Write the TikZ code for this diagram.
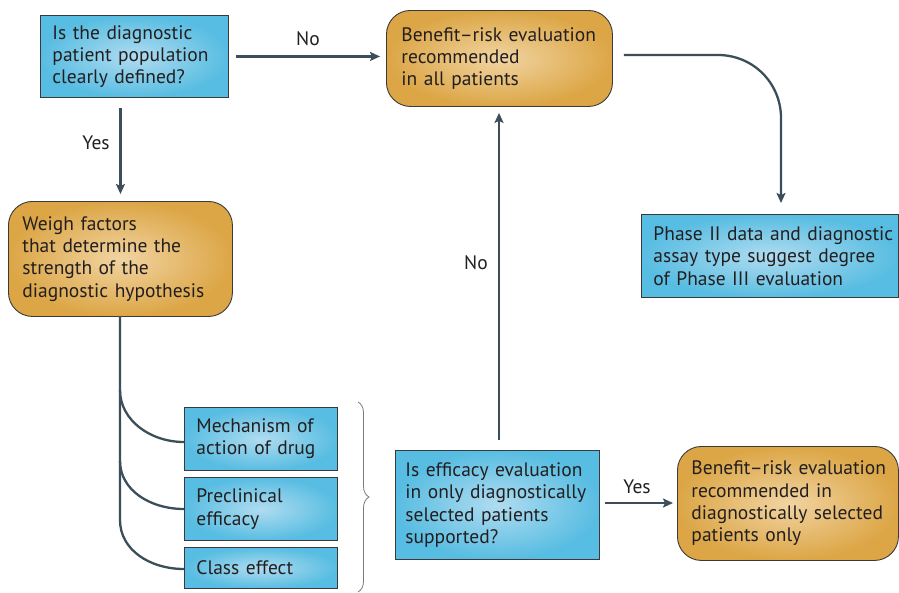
\documentclass[tikz,border=0pt]{standalone}
\usepackage{fontspec}
\setmainfont{PT Sans}
\usetikzlibrary{arrows.meta,decorations.pathreplacing}
\definecolor{txt}{HTML}{231F20}
\definecolor{lnc}{HTML}{3B4E5A}
\definecolor{bout}{HTML}{58BDE2}
\definecolor{bin}{HTML}{B0DCF0}
\definecolor{oout}{HTML}{DCA646}
\definecolor{oin}{HTML}{F1D4A2}
\definecolor{bord}{HTML}{3A3A3A}
\definecolor{brc}{HTML}{7A7A7A}
\newcommand\Lb[1]{\mbox{#1}}
\tikzset{
  boxbase/.style={draw=bord, line width=0.9pt, anchor=north west, align=left, inner ysep=0pt, text=txt},
  bluebox/.style={boxbase, inner color=bin, outer color=bout},
  orangebox/.style={boxbase, rounded corners=24pt, inner color=oin, outer color=oout},
  conn/.style={draw=lnc, line width=2.3pt},
  arr/.style={conn, -{Stealth[length=10pt,width=9pt,inset=2pt]}},
  lbl/.style={text=txt, inner sep=0pt}
}
\begin{document}
\begin{tikzpicture}[x=1pt,y=-1pt,font=\fontsize{19.5}{22.3}\selectfont]
\path[use as bounding box] (0,0) rectangle (899,592);

% boxes
\node[bluebox, inner xsep=12pt, text width=164pt, minimum height=82pt] (b1) at (40,15)
  {\Lb{Is the diagnostic}\\\Lb{patient population}\\\Lb{clearly defined?}};
\node[orangebox, inner xsep=15pt, text width=196pt, minimum height=96pt] (b2) at (386,10)
  {\Lb{Benefit–risk evaluation}\\\Lb{recommended}\\\Lb{in all patients}};
\node[orangebox, inner xsep=14pt, text width=196pt, minimum height=115pt] (b3) at (8,201)
  {\Lb{Weigh factors}\\\Lb{that determine the}\\\Lb{strength of the}\\\Lb{diagnostic hypothesis}};
\node[bluebox, inner xsep=12pt, text width=233pt, minimum height=83pt] (b4) at (641,214)
  {\Lb{Phase II data and diagnostic}\\\Lb{assay type suggest degree}\\\Lb{of Phase III evaluation}};
\node[bluebox, inner xsep=12pt, text width=129pt, minimum height=63pt] (b5) at (184,407)
  {\Lb{Mechanism of}\\\Lb{action of drug}};
\node[bluebox, inner xsep=12pt, text width=129pt, minimum height=63pt] (b6) at (184,477)
  {\Lb{Preclinical}\\\Lb{efficacy}};
\node[bluebox, inner xsep=12pt, text width=129pt, minimum height=41pt] (b7) at (184,547)
  {\Lb{Class effect}};
\node[bluebox, inner xsep=10pt, text width=184pt, minimum height=109pt] (b8) at (395,450)
  {\Lb{Is efficacy evaluation}\\\Lb{in only diagnostically}\\\Lb{selected patients}\\\Lb{supported?}};
\node[orangebox, inner xsep=14pt, text width=193pt, minimum height=114pt] (b9) at (677,446)
  {\Lb{Benefit–risk evaluation}\\\Lb{recommended in}\\\Lb{diagnostically selected}\\\Lb{patients only}};

% connectors
\draw[arr, shorten <=7pt, shorten >=6pt] (b1.east) -- (b2.west |- b1.east);
\node[lbl] (lno1) at (308,39) {No};
\draw[arr, shorten <=10pt, shorten >=7pt] (b1.south -| b3.south) -- (b3.north);
\node[lbl] (lyes1) at (96,143) {Yes};

\coordinate (k1) at (718,55);
\coordinate (k2) at (781,118);
\draw[arr, shorten >=11pt] (b2.east |- k1) ++(11,0) -- (k1) .. controls (753,55) and (781,83) .. (k2) -- (k2 |- b4.north);

\coordinate (u) at (499,0);
\draw[arr, shorten <=10pt, shorten >=6pt] (u |- b8.north) -- (u |- b2.south);
\node[lbl] (lno2) at (476,263) {No};

\draw[arr, shorten <=5pt, shorten >=4pt] (b8.east |- 0,503) -- (b9.west |- 0,503);
\node[lbl] (lyes2) at (637,487) {Yes};

% trunk and branches
\coordinate (t0) at (120,316);
\coordinate (t1) at (120,390);
\coordinate (t2) at (120,461);
\coordinate (t3) at (120,520);
\draw[conn] (t0) -- (t3) .. controls (120,550) and (150,569) .. (b7.west |- 0,569);
\draw[conn] (t1) .. controls (120,420) and (150,442) .. (b5.west |- 0,442);
\draw[conn] (t2) .. controls (120,490) and (150,509) .. (b6.west |- 0,509);

% brace
\coordinate (bt) at (358,402);
\coordinate (bb) at (358,592);
\draw[brc, line width=0.8pt, decorate, decoration={brace, amplitude=11pt}] (bt) -- (bb);
\end{tikzpicture}
\end{document}
